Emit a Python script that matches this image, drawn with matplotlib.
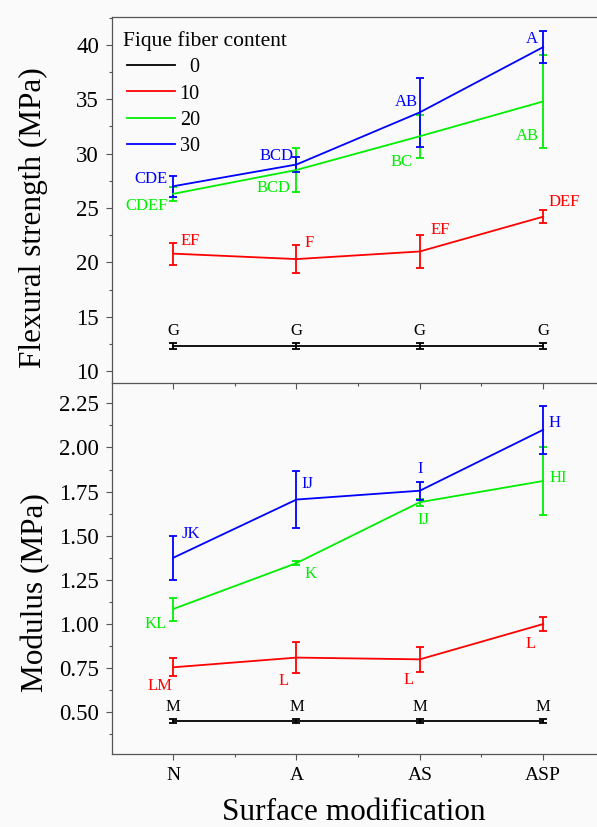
import matplotlib
matplotlib.use("Agg")
import matplotlib.pyplot as plt
from matplotlib.ticker import MultipleLocator, FixedLocator, FormatStrFormatter
from matplotlib.lines import Line2D
import numpy as np

plt.rcParams['font.family'] = ['Liberation Serif', 'DejaVu Serif']

# ---------------- data ----------------
categories = ["N", "A", "AS", "ASP"]
fiber_contents = ["0", "10", "20", "30"]
colors = ["#000000", "#ff0000", "#00ee00", "#0000ff"]

# Flexural strength (MPa)
flex_0 = [12.3, 12.3, 12.3, 12.3]
flex_10 = [20.8, 20.3, 21.0, 24.2]
flex_20 = [26.3, 28.5, 31.6, 34.8]
flex_30 = [27.0, 29.0, 33.8, 39.8]
flex_err_0 = [0.3, 0.3, 0.3, 0.3]
flex_err_10 = [1.0, 1.25, 1.55, 0.6]
flex_err_20 = [0.65, 2.0, 2.0, 4.3]
flex_err_30 = [0.95, 0.65, 3.2, 1.45]
flex_letters_0 = ["G", "G", "G", "G"]
flex_letters_10 = ["EF", "F", "EF", "DEF"]
flex_letters_20 = ["CDEF", "BCD", "BC", "AB"]
flex_letters_30 = ["CDE", "BCD", "AB", "A"]

# Modulus (MPa)
mod_0 = [0.45, 0.45, 0.45, 0.45]
mod_10 = [0.755, 0.81, 0.80, 1.00]
mod_20 = [1.085, 1.345, 1.69, 1.81]
mod_30 = [1.375, 1.705, 1.755, 2.10]
mod_err_0 = [0.012, 0.012, 0.012, 0.012]
mod_err_10 = [0.05, 0.09, 0.07, 0.04]
mod_err_20 = [0.065, 0.01, 0.02, 0.19]
mod_err_30 = [0.125, 0.16, 0.05, 0.135]
mod_letters_0 = ["M", "M", "M", "M"]
mod_letters_10 = ["LM", "L", "L", "L"]
mod_letters_20 = ["KL", "K", "IJ", "HI"]
mod_letters_30 = ["JK", "IJ", "I", "H"]

flex_series = [flex_0, flex_10, flex_20, flex_30]
flex_errs = [flex_err_0, flex_err_10, flex_err_20, flex_err_30]
flex_letters = [flex_letters_0, flex_letters_10, flex_letters_20, flex_letters_30]
mod_series = [mod_0, mod_10, mod_20, mod_30]
mod_errs = [mod_err_0, mod_err_10, mod_err_20, mod_err_30]
mod_letters = [mod_letters_0, mod_letters_10, mod_letters_20, mod_letters_30]

# label placement (pixel offsets dx, dy, ha) per series / category
flex_offsets = [
    [(0, 15, 'center')] * 4,
    [(7, 13, 'left'), (8, 16, 'left'), (11, 21, 'left'), (5, 15, 'left')],
    [(-5, -12, 'right'), (-6, -18, 'right'), (-7, -26, 'right'), (-4, -35, 'right')],
    [(-6, 7, 'right'), (-3, 9, 'right'), (-2, 10, 'right'), (-5, 8, 'right')],
]
mod_offsets = [
    [(0, 14, 'center')] * 4,
    [(-1, -19, 'right'), (-8, -23, 'right'), (-6, -21, 'right'), (-7, -20, 'right')],
    [(-6, -15, 'right'), (8, -11, 'left'), (4, -18, 'center'), (6, 3, 'left')],
    [(8, 24, 'left'), (5, 16, 'left'), (0, 22, 'center'), (5, 7, 'left')],
]

W, H = 597, 827
fig = plt.figure(figsize=(W / 100, H / 100), dpi=100, facecolor='#fafafa')

x = np.arange(1, len(categories) + 1)
ax_left = 111.5 / W
ax_width = 493.3 / W
ax1 = fig.add_axes([ax_left, (H - 383) / H, ax_width, 366 / H])
ax2 = fig.add_axes([ax_left, (H - 754) / H, ax_width, 371 / H])

spine_col = '#555555'


def draw(ax, series, errs, letters, offsets):
    for s, e, lab, c, txt, offs in zip(series, errs, fiber_contents, colors, letters, offsets):
        ax.errorbar(x, s, yerr=e, color=c, lw=1.3, elinewidth=1.3,
                    capsize=3.2, capthick=1.3, label=lab)
        for xi, yi, t, (dx, dy, ha) in zip(x, s, txt, offs):
            ax.annotate(t, xy=(xi, yi), xytext=(dx, dy), textcoords='offset pixels',
                        ha=ha, va='center', color=c, fontsize=12)
    ax.set_facecolor('none')
    ax.set_xlim(0.5, 4.5)
    ax.spines['right'].set_visible(False)
    for sp in ['left', 'bottom', 'top']:
        ax.spines[sp].set_color(spine_col)
        ax.spines[sp].set_linewidth(0.9)
    ax.xaxis.set_major_locator(FixedLocator(x))
    ax.xaxis.set_minor_locator(FixedLocator(x[:-1] + 0.5))
    ax.tick_params(axis='both', which='major', direction='out', color=spine_col,
                   length=4.5, width=0.8)
    ax.tick_params(axis='both', which='minor', direction='out', color=spine_col,
                   length=2.5, width=0.8)
    ax.tick_params(axis='y', labelsize=16.5, pad=4.5)


draw(ax1, flex_series, flex_errs, flex_letters, flex_offsets)
ax1.set_ylim(8.9, 42.57)
ax1.yaxis.set_major_locator(MultipleLocator(5))
ax1.yaxis.set_minor_locator(MultipleLocator(2.5))
ax1.tick_params(axis='x', labelbottom=False)
ax1.set_ylabel("Flexural strength (MPa)", fontsize=22.5)
ax1.yaxis.set_label_coords(-0.128, 0.451)

draw(ax2, mod_series, mod_errs, mod_letters, mod_offsets)
ax2.spines['top'].set_visible(False)
ax2.set_ylim(0.264, 2.365)
ax2.yaxis.set_major_locator(MultipleLocator(0.25))
ax2.yaxis.set_minor_locator(MultipleLocator(0.125))
ax2.yaxis.set_major_formatter(FormatStrFormatter('%.2f'))
ax2.set_xticklabels(categories)
ax2.tick_params(axis='x', labelsize=14, pad=5)
ax2.set_ylabel("Modulus (MPa)", fontsize=22.5)
ax2.yaxis.set_label_coords(-0.124, 0.435)
ax2.set_xlabel("Surface modification", fontsize=22.5)
ax2.xaxis.set_label_coords(0.4916, -0.118)

leg_labels = [("  " + f) if len(f) == 1 else f for f in fiber_contents]
leg_handles = [Line2D([], [], color=c, lw=1.3) for c in colors]
leg = ax1.legend(leg_handles, leg_labels, title="Fique fiber content",
                 loc='upper left', bbox_to_anchor=(0.032, 0.962), frameon=False,
                 fontsize=14.5, title_fontsize=15.5, handlelength=2.35,
                 handletextpad=0.25, labelspacing=0.36, borderpad=0, borderaxespad=0,
                 alignment='left')
leg.get_title().set_position((-4, 0))

fig.savefig("out.png", dpi=100, facecolor=fig.get_facecolor())
